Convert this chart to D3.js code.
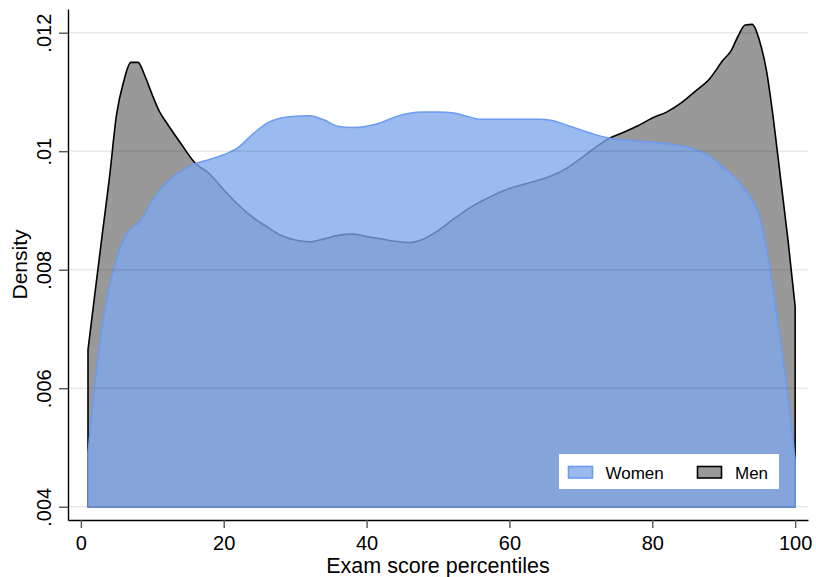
<!DOCTYPE html>
<html>
<head>
<meta charset="utf-8">
<script src="https://cdn.jsdelivr.net/npm/d3@7"></script>
<style>
  html, body { margin: 0; padding: 0; background: #ffffff; }
  svg { display: block; }
  text { font-family: "Liberation Sans", Arial, Helvetica, sans-serif; fill: #000; }
</style>
</head>
<body>
<svg id="chart" width="816" height="577"></svg>
<script>
// Kernel density of exam score percentiles, by sex
const percentiles = [1, 2, 3, 4, 5, 6, 7, 8, 9, 10, 11, 12, 14, 16, 18, 20, 22, 24, 26, 28, 30,
  32, 34, 36, 38, 40, 42, 44, 46, 48, 50, 52, 54, 56, 58, 60, 62, 64, 66, 68, 70,
  72, 74, 76, 78, 80, 82, 84, 86, 88, 90, 91, 92, 93, 94, 95, 96, 97, 98, 99, 100];

const womenDensity = [0.0049, 0.0061, 0.00705, 0.0077, 0.00818, 0.00852, 0.00869, 0.00878, 0.00895, 0.00917, 0.00933, 0.00947, 0.00966, 0.00979, 0.00986, 0.00994, 0.01006, 0.01028, 0.01047, 0.01056, 0.01059,
  0.0106, 0.01053, 0.01042, 0.0104, 0.01042, 0.01048, 0.01058, 0.01064, 0.01066, 0.01066, 0.01065, 0.01059, 0.01054, 0.01054, 0.01054, 0.01054, 0.01054, 0.01052, 0.01044, 0.01036,
  0.01028, 0.01022, 0.01019, 0.01017, 0.01015, 0.01013, 0.01009, 0.01003, 0.00992, 0.00972, 0.00962, 0.0095, 0.00935, 0.00918, 0.0089, 0.00835, 0.0076, 0.00675, 0.00585, 0.0048];

const menDensity = [0.00665, 0.00763, 0.0086, 0.00955, 0.01062, 0.01118, 0.0115, 0.0115, 0.01126, 0.01095, 0.01067, 0.01048, 0.01013, 0.0098, 0.00962, 0.00935, 0.0091, 0.00889, 0.00873, 0.00858, 0.0085,
  0.00847, 0.00852, 0.00858, 0.0086, 0.00856, 0.00852, 0.00848, 0.00846, 0.00852, 0.00866, 0.00884, 0.00901, 0.00915, 0.00927, 0.00937, 0.00944, 0.00951, 0.00959, 0.00971, 0.00988,
  0.01006, 0.01022, 0.01032, 0.01043, 0.01056, 0.01066, 0.01081, 0.01101, 0.01122, 0.01155, 0.01169, 0.01194, 0.01213, 0.01214, 0.01187, 0.01135, 0.0105, 0.0095, 0.0085, 0.00738];

const xTicks = [0, 20, 40, 60, 80, 100];
const yTicks = [0.004, 0.006, 0.008, 0.01, 0.012];
const yTickLabels = [".004", ".006", ".008", ".01", ".012"];
const seriesNames = ["Women", "Men"];

const svg = d3.select("#chart");
const plotLeft = 68, plotRight = 808, plotTop = 9, plotBottom = 520;

const x = d3.scaleLinear().domain([-1.8, 101.8]).range([plotLeft, plotRight]);
const y = d3.scaleLinear().domain([0.003776, 0.0124]).range([plotBottom, plotTop]);
const base = 0.004;

const rows = percentiles.map((p, i) => ({ p, w: womenDensity[i], m: menDensity[i] }));

const areaOf = key => d3.area()
  .x(d => x(d.p))
  .y0(y(base))
  .y1(d => y(d[key]))
  .curve(d3.curveMonotoneX);

const menColor = "#999999", menStroke = "#000000";
const womenFill = "#7ea6ec", womenOpacity = 0.78, womenStroke = "#6b9bf2";

// Men first, women drawn over it with partial transparency
svg.append("path")
  .datum(rows)
  .attr("d", areaOf("m"))
  .attr("fill", menColor)
  .attr("stroke", menStroke)
  .attr("stroke-width", 1.6)
  .attr("stroke-linejoin", "round");

svg.append("path")
  .datum(rows)
  .attr("d", areaOf("w"))
  .attr("fill", womenFill)
  .attr("fill-opacity", womenOpacity)
  .attr("stroke", womenStroke)
  .attr("stroke-width", 1.5)
  .attr("stroke-linejoin", "round");

// Horizontal grid lines
svg.append("g")
  .selectAll("line")
  .data(yTicks)
  .join("line")
  .attr("x1", plotLeft).attr("x2", plotRight)
  .attr("y1", d => y(d)).attr("y2", d => y(d))
  .attr("stroke", "#000")
  .attr("stroke-opacity", 0.085)
  .attr("stroke-width", 1.6);

// Y axis
const yAxis = svg.append("g")
  .attr("transform", `translate(${plotLeft},0)`)
  .call(d3.axisLeft(y).tickValues(yTicks).tickSize(9).tickSizeOuter(0).tickFormat((d, i) => yTickLabels[i]));
yAxis.select(".domain").attr("stroke", "#000").attr("stroke-width", 1.4);
yAxis.selectAll(".tick line").attr("stroke", "#555").attr("stroke-width", 1.4);
yAxis.selectAll(".tick text")
  .attr("x", 0).attr("y", 0)
  .attr("dy", 0)
  .attr("transform", "translate(-17,0) rotate(-90)")
  .attr("text-anchor", "middle")
  .style("font-size", "20px")
  .attr("fill", "#000");

// X axis
const xAxis = svg.append("g")
  .attr("transform", `translate(0,${plotBottom})`)
  .call(d3.axisBottom(x).tickValues(xTicks).tickSize(8).tickSizeOuter(0).tickFormat(d3.format("d")));
xAxis.select(".domain").attr("stroke", "#000").attr("stroke-width", 1.4);
xAxis.selectAll(".tick line").attr("stroke", "#555").attr("stroke-width", 1.4);
xAxis.selectAll(".tick text")
  .attr("y", 30).attr("dy", 0)
  .style("font-size", "20px")
  .attr("fill", "#000");

// Axis titles
svg.append("text")
  .attr("x", (plotLeft + plotRight) / 2)
  .attr("y", 573)
  .attr("text-anchor", "middle")
  .style("font-size", "21.5px")
  .text("Exam score percentiles");

svg.append("text")
  .attr("transform", `translate(27,${(plotTop + plotBottom) / 2}) rotate(-90)`)
  .attr("text-anchor", "middle")
  .style("font-size", "21px")
  .text("Density");

// Legend
const legend = svg.append("g");
legend.append("rect")
  .attr("x", 559).attr("y", 454).attr("width", 220).attr("height", 35)
  .attr("fill", "#ffffff");

const legendItems = [
  { name: seriesNames[0], sx: 568.5, tx: 605.5, fill: womenFill, op: womenOpacity, stroke: womenStroke },
  { name: seriesNames[1], sx: 697.5, tx: 735, fill: menColor, op: 1, stroke: menStroke }
];
legendItems.forEach(it => {
  legend.append("rect")
    .attr("x", it.sx).attr("y", 466.5).attr("width", 24).attr("height", 11.5)
    .attr("fill", it.fill).attr("fill-opacity", it.op)
    .attr("stroke", it.stroke).attr("stroke-width", 1.6);
  legend.append("text")
    .attr("x", it.tx).attr("y", 479)
    .style("font-size", "17px")
    .text(it.name);
});
</script>
</body>
</html>
